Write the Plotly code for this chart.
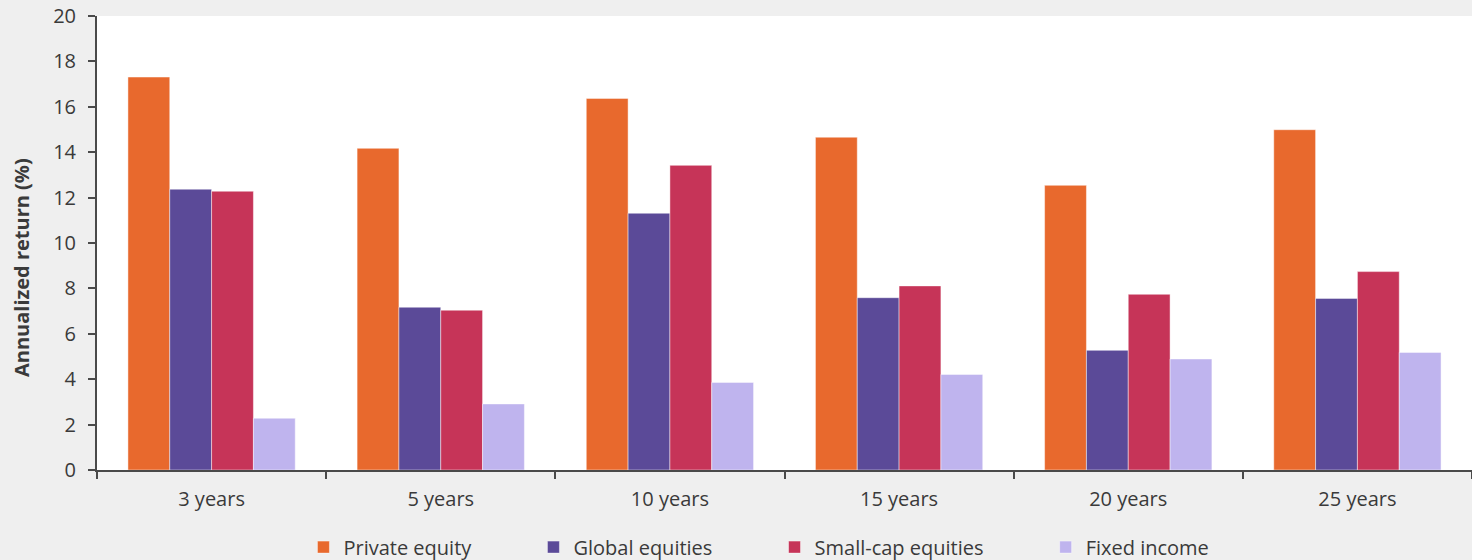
import plotly.graph_objects as go

# Annualized returns by holding period
periods = ["3 years", "5 years", "10 years", "15 years", "20 years", "25 years"]
private_equity = [17.31, 14.17, 16.37, 14.66, 12.54, 14.99]
global_equities = [12.37, 7.17, 11.31, 7.59, 5.27, 7.56]
small_cap_equities = [12.28, 7.04, 13.42, 8.11, 7.74, 8.74]
fixed_income = [2.28, 2.91, 3.86, 4.21, 4.89, 5.18]

series_names = ["Private equity", "Global equities", "Small-cap equities", "Fixed income"]
series_values = [private_equity, global_equities, small_cap_equities, fixed_income]
series_colors = ["#E8692D", "#5B4A98", "#C63458", "#BFB4EE"]

FONT = "Open Sans"
TEXT = "#3a3a3a"
AXIS = "#4a4a4a"
PAD = "\u00a0" * 11  # widen the gap between horizontal legend entries

W, H = 1472, 560
M_L, M_R, M_T, M_B = 97, 0, 16, 90
plot_w = W - M_L - M_R
plot_h = H - M_T - M_B

fig = go.Figure()
for i, (name, vals, color) in enumerate(zip(series_names, series_values, series_colors)):
    label = name + (PAD if i < len(series_names) - 1 else "")
    fig.add_trace(go.Bar(
        x=periods, y=vals, name=label,
        marker=dict(color=color, line=dict(color="rgba(255,255,255,0.45)", width=1)),
    ))

fig.update_layout(
    width=W, height=H,
    margin=dict(l=M_L, r=M_R, t=M_T, b=M_B),
    paper_bgcolor="#efefef",
    plot_bgcolor="#ffffff",
    barmode="group",
    bargap=0.27,
    bargroupgap=0,
    font=dict(family=FONT, size=20, color=TEXT),
    legend=dict(
        orientation="h",
        x=221 / W, xanchor="left",
        yref="container", y=0.023, yanchor="middle",
        font=dict(size=20, color=TEXT),
        bgcolor="rgba(0,0,0,0)",
    ),
    showlegend=True,
)

# Y-axis title placed as a rotated annotation at the far left
fig.add_annotation(
    text="<b>Annualized return (%)</b>",
    xref="paper", yref="paper",
    x=(21 - M_L) / plot_w, y=(470 - 268) / plot_h,
    xanchor="center", yanchor="middle",
    textangle=-90, showarrow=False,
    font=dict(family=FONT, size=20, color=TEXT),
)

fig.update_xaxes(
    showline=True, linecolor=AXIS, linewidth=2,
    ticks="outside", tickson="boundaries", ticklen=7, tickcolor=AXIS, tickwidth=2,
    showgrid=False,
    tickfont=dict(size=20, color=TEXT),
    ticklabelstandoff=10,
)
fig.update_yaxes(
    range=[0, 20], dtick=2,
    showline=True, linecolor=AXIS, linewidth=2,
    ticks="outside", ticklen=7, tickcolor=AXIS, tickwidth=2,
    showgrid=False, zeroline=False,
    tickfont=dict(size=20, color=TEXT),
    ticklabelstandoff=8,
)

fig.write_html("out.html")
